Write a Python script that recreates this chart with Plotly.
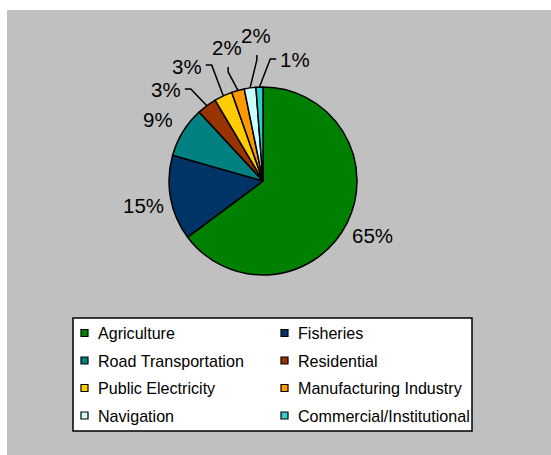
import math
import plotly.graph_objects as go

categories = ["Agriculture", "Fisheries", "Road Transportation", "Residential",
              "Public Electricity", "Manufacturing Industry", "Navigation",
              "Commercial/Institutional"]
values = [64.8, 14.6, 8.7, 3.4, 3.1, 2.2, 2.0, 1.2]
colors = ["#008000", "#003366", "#008080", "#993300",
          "#FFCC00", "#FF9900", "#CCFFFF", "#33CCCC"]

# label nudges (angle degrees, extra radius px) applied to data-driven label spots
label_nudge = [(0, 0), (-1, 0), (-1, 0), (-10.1, 11.0), (-8.5, 15.8),
               (0.4, 15.8), (5.1, 23.2), (17, 3.2)]

W, H = 551, 455
cx, cy, r = 263, 181, 94
label_r = r + 28
FONT = "Liberation Sans, Arial, sans-serif"
LBL_SIZE = 20.5
LEG_SIZE = 16.1


def px(x, y):
    return x / W, 1 - y / H


fig = go.Figure(go.Pie(
    labels=categories, values=values, sort=False, direction="clockwise",
    rotation=0,
    marker=dict(colors=colors, line=dict(color="black", width=1.5)),
    textinfo="none", showlegend=False,
    domain=dict(x=[(cx - r) / W, (cx + r) / W], y=[1 - (cy + r) / H, 1 - (cy - r) / H]),
    hoverinfo="label+percent",
))

total = sum(values)
annotations = []
shapes = [dict(type="rect", xref="paper", yref="paper", x0=7 / W, x1=1, y0=0,
               y1=1 - 10 / H, fillcolor="#C0C0C0", line=dict(width=0), layer="below")]

# percentage labels with leader lines
cum = 0.0
for v, (da, dr) in zip(values, label_nudge):
    mid = (cum + v / 2) / total * 360
    cum += v
    pct = f"{round(v / total * 100):.0f}%"
    a = math.radians(mid + da)
    lx = cx + (label_r + dr) * math.sin(a)
    ly = cy - (label_r + dr) * math.cos(a)
    X, Y = px(lx, ly)
    annotations.append(dict(x=X, y=Y, xref="paper", yref="paper", text=pct,
                            showarrow=False, xanchor="center", yanchor="middle",
                            height=17, valign="middle",
                            font=dict(family=FONT, size=LBL_SIZE, color="black")))
    if abs(da) > 3 or dr > 5:
        am = math.radians(mid)
        ex = cx + r * math.sin(am)
        ey = cy - r * math.cos(am)
        dx, dy = lx - ex, ly - ey
        hw = 0.5 * LBL_SIZE * (0.556 * (len(pct) - 1) + 0.889)
        if abs(dx) > abs(dy) * 0.9:
            s = -1 if dx > 0 else 1
            x0 = lx + s * (hw + 4)
            pts = [(x0, ly - 1), (x0 + s * 6, ly - 1), (ex, ey)]
        else:
            y0 = ly + 19
            pts = [(lx + 1, y0), (lx + 1, y0 + 5), (ex, ey)]
        path = "M " + " L ".join(f"{px(x, y)[0]:.5f},{px(x, y)[1]:.5f}" for x, y in pts)
        shapes.append(dict(type="path", xref="paper", yref="paper", path=path,
                           line=dict(color="black", width=1.5)))

# legend box (two columns)
lx0, ly0, lx1, ly1 = px(73, 318) + px(472, 431)
shapes.append(dict(type="rect", xref="paper", yref="paper", x0=lx0, y0=ly1, x1=lx1, y1=ly0,
                   fillcolor="white", line=dict(color="black", width=1.5)))
for i, (name, col) in enumerate(zip(categories, colors)):
    row, c = divmod(i, 2)
    mx = 84.5 + 200 * c
    my = 333 + 27.5 * row
    a0 = px(mx - 3.5, my - 3.5)
    a1 = px(mx + 3.5, my + 3.5)
    shapes.append(dict(type="rect", xref="paper", yref="paper", x0=a0[0], y0=a1[1],
                       x1=a1[0], y1=a0[1], fillcolor=col, line=dict(color="black", width=1.2)))
    tx, ty = px(96 + 200 * c, my)
    annotations.append(dict(x=tx, y=ty, xref="paper", yref="paper", text=name,
                            showarrow=False, xanchor="left", yanchor="middle",
                            font=dict(family=FONT, size=LEG_SIZE, color="black")))

fig.update_layout(
    width=W, height=H, margin=dict(l=0, r=0, t=0, b=0),
    paper_bgcolor="white",
    font=dict(family=FONT, color="black"),
    shapes=shapes, annotations=annotations,
    showlegend=False,
)

fig.write_html("out.html", config={"displayModeBar": False},
               post_script="document.body.style.margin='0px';")
